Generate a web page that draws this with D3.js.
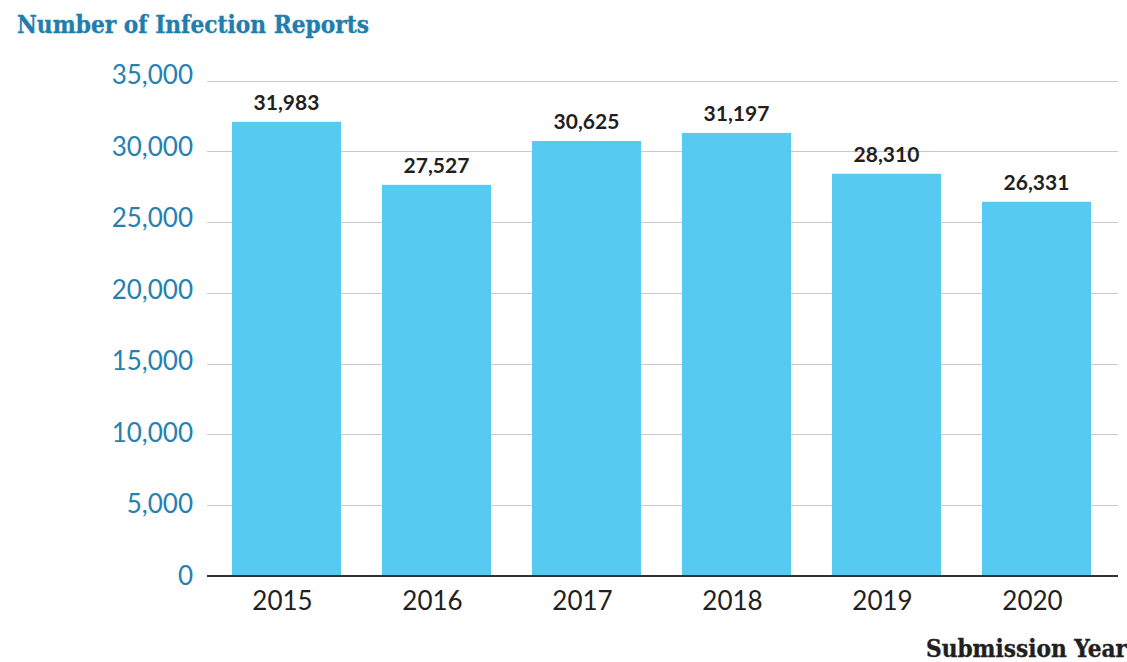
<!DOCTYPE html>
<html>
<head>
<meta charset="utf-8">
<script src="https://cdn.jsdelivr.net/npm/d3@7"></script>
<style>
  html, body { margin: 0; padding: 0; background: #fff; }
  svg { display: block; }
  .serif-head {
    font-family: "DejaVu Serif Condensed", "DejaVu Serif", serif;
    font-stretch: condensed;
    font-weight: bold;
  }
</style>
</head>
<body>
<svg id="chart" width="1127" height="662"></svg>
<script>
// Infection reports submitted per year
const years = ["2015", "2016", "2017", "2018", "2019", "2020"];
const reports = [31983, 27527, 30625, 31197, 28310, 26331];
const yTicks = [0, 5000, 10000, 15000, 20000, 25000, 30000, 35000];

const svg = d3.select("#chart");

const plot = { left: 207, right: 1118, top: 80.7, bottom: 576 };

const x = d3.scaleBand()
  .domain(years)
  .range([211.5, 1111.5])
  .paddingInner(0.2733)
  .paddingOuter(0.1367);

const y = d3.scaleLinear()
  .domain([0, 35000])
  .range([plot.bottom, plot.top]);

const fmt = d3.format(",");
const rows = years.map((yr, i) => ({ yr, v: reports[i] }));

// Title
svg.append("text")
  .attr("class", "serif-head")
  .attr("x", 17)
  .attr("y", 33)
  .attr("font-size", 24)
  .attr("fill", "#1f7ead")
  .attr("stroke", "#1f7ead")
  .attr("stroke-width", 0.35)
  .attr("textLength", 352)
  .attr("lengthAdjust", "spacingAndGlyphs")
  .text("Number of Infection Reports");

// Horizontal gridlines (excluding baseline)
svg.append("g")
  .selectAll("line")
  .data(yTicks.filter(d => d > 0))
  .join("line")
  .attr("x1", plot.left)
  .attr("x2", plot.right)
  .attr("y1", d => Math.round(y(d)) + 0.5)
  .attr("y2", d => Math.round(y(d)) + 0.5)
  .attr("stroke", "#c9c9c9")
  .attr("stroke-width", 1);

// Y axis labels
const yAxis = d3.axisLeft(y)
  .tickValues(yTicks)
  .tickFormat(fmt)
  .tickSize(0)
  .tickPadding(0);

const gy = svg.append("g")
  .attr("transform", "translate(193,0)")
  .call(yAxis);
gy.select(".domain").remove();
gy.selectAll("text")
  .attr("font-family", "Lato, sans-serif")
  .attr("font-size", 26)
  .attr("fill", "#2581b1")
  .attr("dy", d => (0.32 - d / 35000 * 0.2) + "em");

// Bars sit slightly above the baseline rule, which covers their foot
const bars = svg.append("g").attr("transform", "translate(0,-1.6)");
bars.selectAll("rect")
  .data(rows)
  .join("rect")
  .attr("x", d => x(d.yr))
  .attr("width", x.bandwidth())
  .attr("y", d => y(d.v))
  .attr("height", d => y(0) - y(d.v) + 1.6)
  .attr("fill", "#56caf0");

// Value labels
bars.selectAll("text")
  .data(rows)
  .join("text")
  .attr("x", d => x(d.yr) + x.bandwidth() / 2)
  .attr("y", d => y(d.v) - 12)
  .attr("text-anchor", "middle")
  .attr("font-family", "Lato, sans-serif")
  .attr("font-weight", "bold")
  .attr("font-size", 21)
  .attr("fill", "#231f20")
  .text(d => fmt(d.v));

// Baseline
svg.append("line")
  .attr("x1", plot.left)
  .attr("x2", plot.right)
  .attr("y1", y(0))
  .attr("y2", y(0))
  .attr("stroke", "#333")
  .attr("stroke-width", 2);

// X axis labels
const xAxis = d3.axisBottom(x).tickSize(0).tickPadding(0);
const gx = svg.append("g")
  .attr("transform", `translate(-4,${plot.bottom})`)
  .call(xAxis);
gx.select(".domain").remove();
gx.selectAll("text")
  .attr("font-family", "Lato, sans-serif")
  .attr("font-size", 26)
  .attr("fill", "#231f20")
  .attr("dy", null)
  .attr("y", 34);

// X axis title
svg.append("text")
  .attr("class", "serif-head")
  .attr("x", 1127)
  .attr("y", 657)
  .attr("text-anchor", "end")
  .attr("font-size", 24)
  .attr("fill", "#231f20")
  .attr("stroke", "#231f20")
  .attr("stroke-width", 0.35)
  .attr("textLength", 201)
  .attr("lengthAdjust", "spacingAndGlyphs")
  .text("Submission Year");
</script>
</body>
</html>
